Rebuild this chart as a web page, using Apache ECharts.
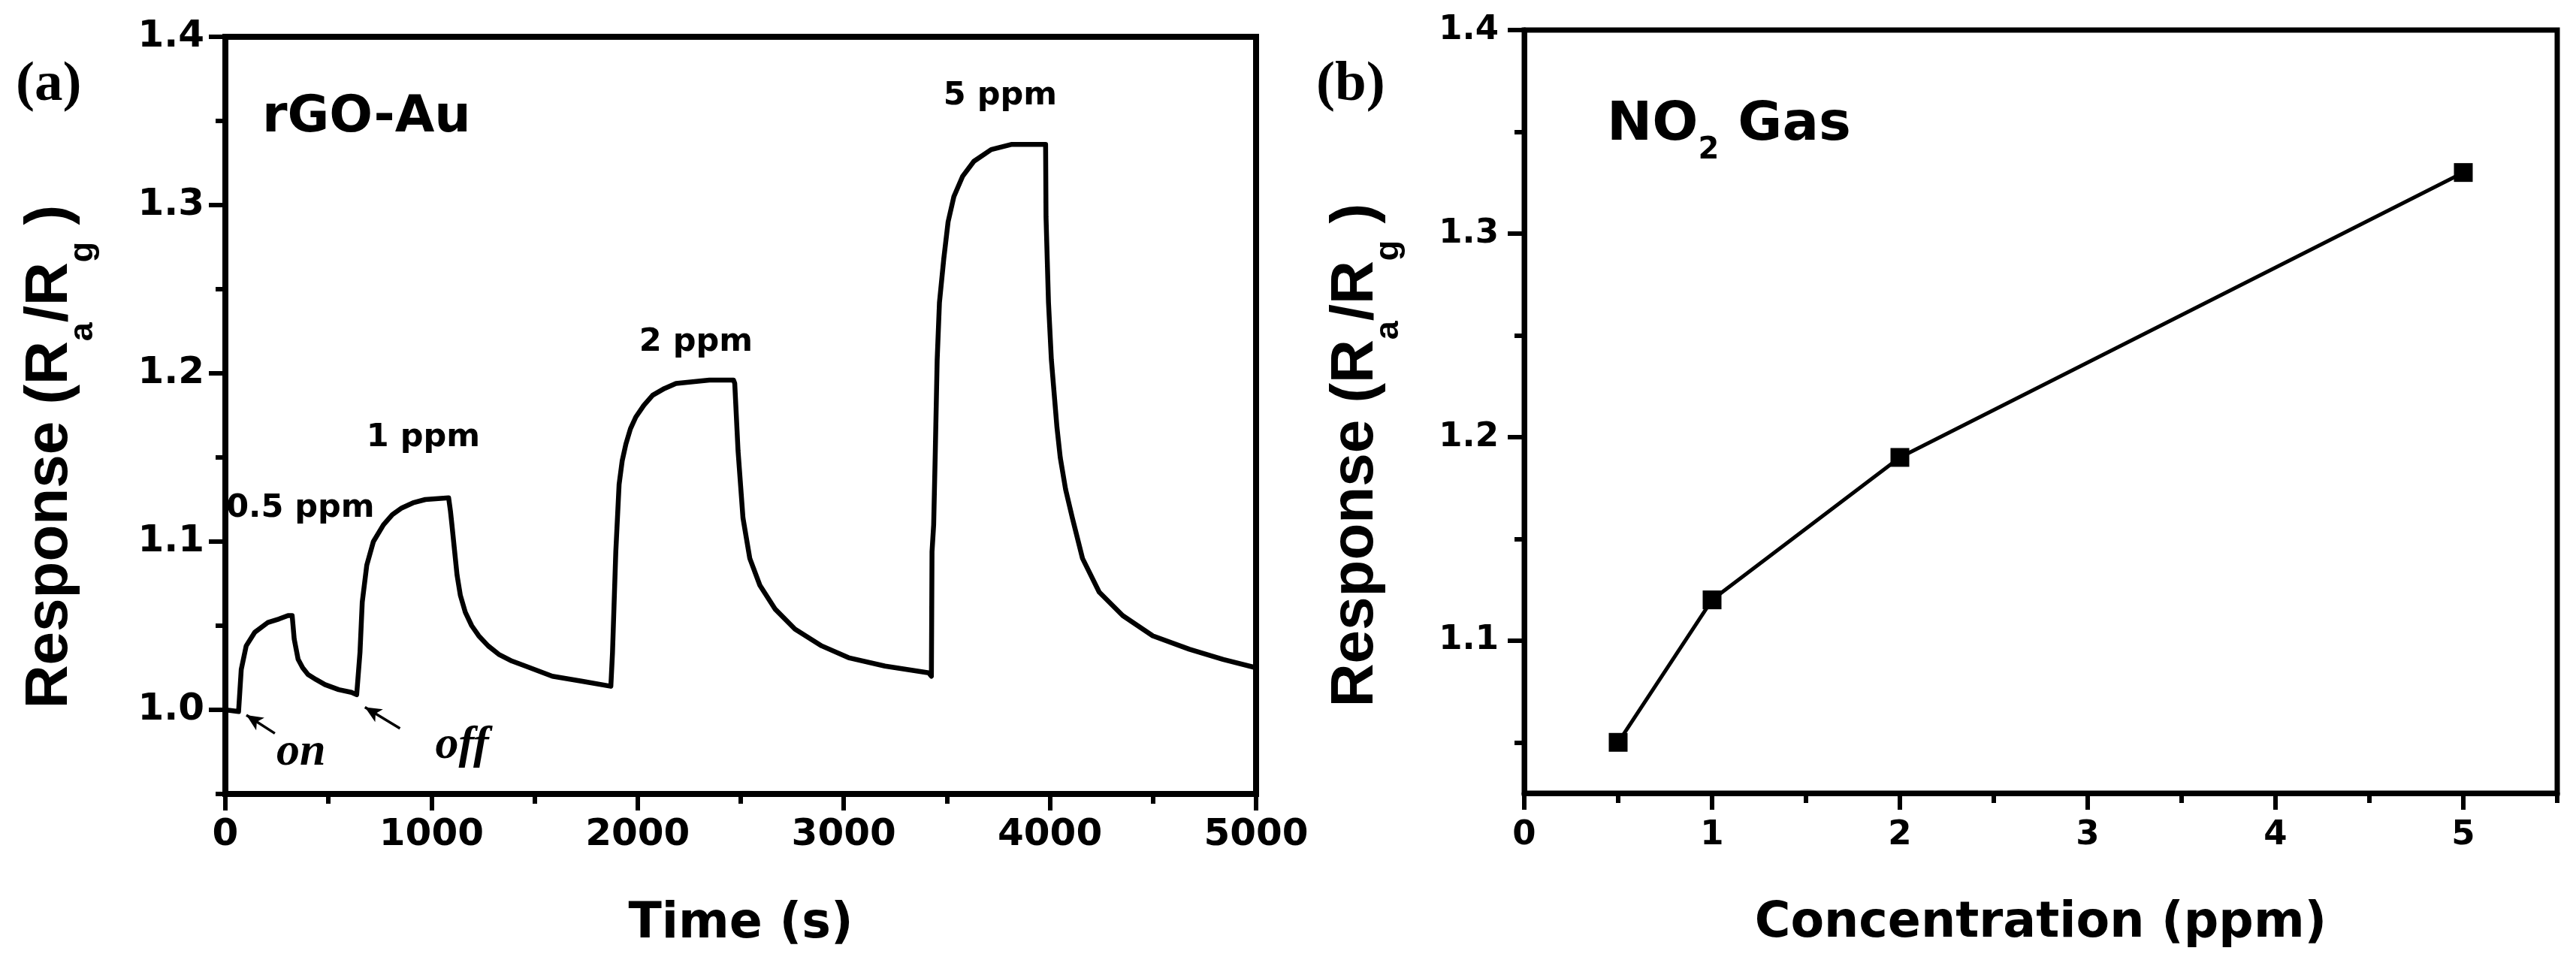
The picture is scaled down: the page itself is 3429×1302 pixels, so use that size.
<!DOCTYPE html>
<html>
<head>
<meta charset="utf-8">
<script src="https://cdn.jsdelivr.net/npm/echarts@6.0.0/dist/echarts.min.js"></script>
<style>
html,body{margin:0;padding:0;background:#fff;}
#chart{width:3429px;height:1302px;}
</style>
</head>
<body>
<div id="chart"></div>
<script>
// ---------- Panel (a): response vs time (rGO-Au) ----------
const timeS = [0, 64, 77, 101, 142, 207, 260, 304, 324, 334, 353, 375, 401, 440, 483, 550, 612, 637,
  653, 664, 686, 718, 767, 810, 856, 910, 970, 1083, 1092, 1099, 1124, 1140, 1164, 1195, 1229, 1275,
  1326, 1390, 1456, 1586, 1732, 1870, 1878, 1894, 1910, 1925, 1943, 1965, 1991, 2030, 2073, 2130,
  2186, 2348, 2465, 2471, 2487, 2511, 2544, 2593, 2666, 2763, 2893, 3023, 3200, 3412, 3425, 3428,
  3436, 3444, 3453, 3464, 3485, 3506, 3534, 3576, 3631, 3715, 3812, 3979, 3981, 3993, 4007, 4034,
  4050, 4076, 4109, 4158, 4239, 4353, 4499, 4677, 4840, 5000];
const responseA = [1.000, 0.999, 1.024, 1.038, 1.046, 1.052, 1.054, 1.056, 1.056, 1.042, 1.030, 1.025, 1.021, 1.018, 1.015, 1.012, 1.0104, 1.009,
  1.034, 1.064, 1.086, 1.100, 1.110, 1.116, 1.120, 1.123, 1.125, 1.126, 1.118, 1.110, 1.080, 1.068, 1.058, 1.050, 1.044, 1.038,
  1.033, 1.029, 1.026, 1.020, 1.017, 1.014, 1.034, 1.094, 1.134, 1.148, 1.158, 1.167, 1.174, 1.181, 1.187, 1.191,
  1.194, 1.196, 1.196, 1.194, 1.154, 1.114, 1.090, 1.074, 1.060, 1.048, 1.038, 1.031, 1.026, 1.022, 1.020, 1.094,
  1.110, 1.154, 1.208, 1.242, 1.268, 1.290, 1.305, 1.317, 1.326, 1.333, 1.336, 1.336, 1.293, 1.242, 1.208, 1.168,
  1.150, 1.131, 1.114, 1.090, 1.070, 1.056, 1.044, 1.036, 1.030, 1.025];

// ---------- Panel (b): response vs concentration ----------
const concPpm = [0.5, 1, 2, 5];
const responseB = [1.05, 1.12, 1.19, 1.33];

// ---------- Ticks ----------
const xTicksA = [0, 1000, 2000, 3000, 4000, 5000];
const xMinorA = [500, 1500, 2500, 3500, 4500];
const yTicksA = [1.0, 1.1, 1.2, 1.3, 1.4];
const yMinorA = [0.95, 1.05, 1.15, 1.25, 1.35];
const xTicksB = [0, 1, 2, 3, 4, 5];
const xMinorB = [0.5, 1.5, 2.5, 3.5, 4.5, 5.5];
const yTicksB = [1.1, 1.2, 1.3, 1.4];
const yMinorB = [1.05, 1.15, 1.25, 1.35];

// ---------- Annotations (data coordinates) ----------
const ppmLabels = ['0.5 ppm', '1 ppm', '2 ppm', '5 ppm'];
const ppmLabelT = [364, 960, 2283, 3759];
const ppmLabelR = [1.1195, 1.1615, 1.2183, 1.365];
const gasLabels = ['on', 'off'];
const gasLabelT = [367, 1148];
const gasLabelR = [0.9745, 0.9785];
const arrowFromT = [240, 847];
const arrowFromR = [0.986, 0.989];
const arrowToT = [102, 677];
const arrowToR = [0.9969, 1.0016];

const SANS = 'DejaVu Sans';
const ARIAL = 'Liberation Sans';
const SERIF = 'Liberation Serif';

function majorAxis(dir, grid, min, max, ticks, fmt, fontSize, margin, lw, extra) {
  return Object.assign({
    type: 'value', gridIndex: grid, min: min, max: max,
    position: dir === 'x' ? 'bottom' : 'left',
    axisLine: { show: true, onZero: false, lineStyle: { color: '#000', width: lw } },
    axisTick: { show: true, inside: false, length: 22, customValues: ticks, lineStyle: { color: '#000', width: 6 } },
    axisLabel: { show: true, customValues: ticks, formatter: fmt, color: '#000', fontFamily: SANS,
      fontWeight: 'bold', fontSize: fontSize, margin: margin },
    splitLine: { show: false }
  }, extra || {});
}
function minorAxis(dir, grid, min, max, ticks) {
  return {
    type: 'value', gridIndex: grid, min: min, max: max,
    position: dir === 'x' ? 'bottom' : 'left', offset: 0,
    axisLine: { show: false, onZero: false },
    axisTick: { show: true, inside: false, length: 13, customValues: ticks, lineStyle: { color: '#000', width: 6 } },
    axisLabel: { show: false },
    splitLine: { show: false }
  };
}

const titleRich = {
  m: { fontFamily: ARIAL, fontWeight: 'bold', fontSize: 80, lineHeight: 80, verticalAlign: 'top', fill: '#000' },
  s: { fontFamily: ARIAL, fontWeight: 'bold', fontSize: 45, lineHeight: 106, verticalAlign: 'bottom', fill: '#000' }
};
const yTitleText = '{m|Response (R}{s|a}{m|/R}{s|g}{m| )}';

const chart = echarts.init(document.getElementById('chart'), null, { renderer: 'canvas' });

const option = {
  backgroundColor: '#fff',
  animation: false,
  grid: [
    { left: 300, top: 49, width: 1372, height: 1008, show: true, borderColor: '#000', borderWidth: 8, backgroundColor: 'transparent' },
    { left: 2029, top: 40, width: 1375, height: 1016, show: true, borderColor: '#000', borderWidth: 7, backgroundColor: 'transparent' }
  ],
  xAxis: [
    majorAxis('x', 0, 0, 5000, xTicksA, v => String(v), 50, 30, 8, {
      name: 'Time (s)', nameLocation: 'middle', nameGap: 142,
      nameTextStyle: { fontFamily: SANS, fontWeight: 'bold', fontSize: 65, color: '#000' }
    }),
    minorAxis('x', 0, 0, 5000, xMinorA),
    majorAxis('x', 1, 0, 5.5, xTicksB, v => String(v), 45, 34, 7, {
      name: 'Concentration (ppm)', nameLocation: 'middle', nameGap: 142,
      nameTextStyle: { fontFamily: SANS, fontWeight: 'bold', fontSize: 65, color: '#000' }
    }),
    minorAxis('x', 1, 0, 5.5, xMinorB)
  ],
  yAxis: [
    majorAxis('y', 0, 0.95, 1.4, yTicksA, v => v.toFixed(1), 50, 28, 8),
    minorAxis('y', 0, 0.95, 1.4, yMinorA),
    majorAxis('y', 1, 1.025, 1.4, yTicksB, v => v.toFixed(1), 45, 34, 7),
    minorAxis('y', 1, 1.025, 1.4, yMinorB)
  ],
  series: [
    {
      name: 'rGO-Au', type: 'line', xAxisIndex: 0, yAxisIndex: 0,
      data: timeS.map((t, i) => [t, responseA[i]]),
      showSymbol: false, symbol: 'none', smooth: false, clip: true,
      lineStyle: { color: '#000', width: 6.5, join: 'round' },
      markPoint: {
        silent: true,
        symbol: 'rect', symbolSize: 1, itemStyle: { color: 'rgba(0,0,0,0)' },
        data: ppmLabels.map((txt, i) => ({
          coord: [ppmLabelT[i], ppmLabelR[i]],
          label: { show: true, position: 'inside', formatter: txt, color: '#000',
            fontFamily: SANS, fontWeight: 'bold', fontSize: 43, align: 'center', verticalAlign: 'middle' }
        })).concat(gasLabels.map((txt, i) => ({
          coord: [gasLabelT[i], gasLabelR[i]],
          label: { show: true, position: 'inside', formatter: txt, color: '#000',
            fontFamily: SERIF, fontStyle: 'italic', fontWeight: 'bold', fontSize: 62, align: 'center', verticalAlign: 'middle' }
        })))
      },
      markLine: {
        silent: true, animation: false,
        symbol: ['none', 'arrow'], symbolSize: [15, 22],
        label: { show: false },
        lineStyle: { color: '#000', width: 3.5, type: 'solid' },
        data: arrowFromT.map((t, i) => [
          { coord: [t, arrowFromR[i]] },
          { coord: [arrowToT[i], arrowToR[i]] }
        ])
      }
    },
    {
      name: 'NO2', type: 'line', xAxisIndex: 2, yAxisIndex: 2,
      data: concPpm.map((c, i) => [c, responseB[i]]),
      symbol: 'rect', symbolSize: 25, showSymbol: true,
      itemStyle: { color: '#000' },
      lineStyle: { color: '#000', width: 5 }
    }
  ],
  graphic: [
    { type: 'text', x: 21, y: 114, silent: true,
      style: { text: '(a)', fill: '#000', font: 'bold 75px "Liberation Serif"', align: 'left', verticalAlign: 'middle' } },
    { type: 'text', x: 1752, y: 114, silent: true,
      style: { text: '(b)', fill: '#000', font: 'bold 75px "Liberation Serif"', align: 'left', verticalAlign: 'middle' } },
    { type: 'text', x: 349, y: 157, silent: true,
      style: { text: 'rGO-Au', fill: '#000', font: 'bold 68px "DejaVu Sans"', align: 'left', verticalAlign: 'middle' } },
    { type: 'text', x: 2139, y: 176, silent: true,
      style: { text: '{m|NO}{s|2}{m| Gas}', align: 'left', verticalAlign: 'middle',
        rich: {
          m: { fontFamily: SANS, fontWeight: 'bold', fontSize: 72, lineHeight: 72, verticalAlign: 'top', fill: '#000' },
          s: { fontFamily: SANS, fontWeight: 'bold', fontSize: 40, lineHeight: 89, verticalAlign: 'bottom', fill: '#000' }
        } } },
    { type: 'text', x: 80, y: 608, rotation: Math.PI / 2, silent: true,
      style: { text: yTitleText, align: 'center', verticalAlign: 'middle', rich: titleRich } },
    { type: 'text', x: 1818, y: 606, rotation: Math.PI / 2, silent: true,
      style: { text: yTitleText, align: 'center', verticalAlign: 'middle', rich: titleRich } }
  ]
};

chart.setOption(option);
</script>
</body>
</html>
